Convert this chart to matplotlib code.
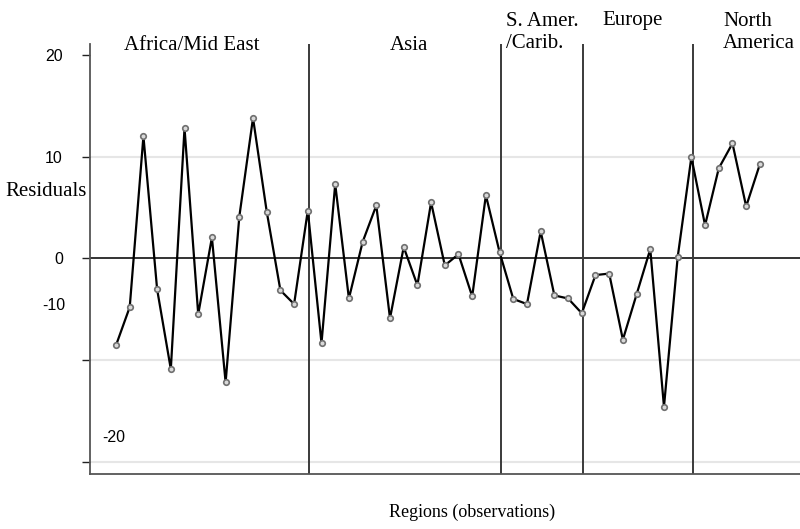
import numpy as np
import matplotlib
matplotlib.use("Agg")
import matplotlib.pyplot as plt

# Residuals by observation, grouped by region
residuals = [-8.55, -4.8, 12.0, -3.05, -10.9, 12.8, -5.5, 2.05, -12.2, 4.1,
             13.8, 4.6, -3.15, -4.5, 4.7, -8.35, 7.3, -3.95, 1.6, 5.2,
             -5.9, 1.1, -2.65, 5.5, -0.7, 0.4, -3.75, 6.2, 0.6, -4.0,
             -4.5, 2.65, -3.65, -3.95, -5.4, -1.65, -1.5, -8.0, -3.55, 0.9,
             -14.6, 0.1, 9.95, 3.25, 8.85, 11.3, 5.1, 9.25]
obs = np.arange(1, len(residuals) + 1)

region_breaks = [15.1, 29.1, 35.1, 43.1]
region_names = ["Africa/Mid East", "Asia", "S. Amer.\n/Carib.", "Europe", "North\nAmerica"]

ytick_vals = [20, 10, 0, -10, -20]
ytick_text = ["20", "10", "0", "", ""]
grid_vals = [10, -10, -20]

serif = "Liberation Serif"
sans = "Liberation Sans"

fig = plt.figure(figsize=(8, 5.29), dpi=100)
ax = fig.add_axes([0.1125, 0.1045, 0.8875, 0.8123])

ax.set_xlim(-0.9, 50.93)
ax.set_ylim(-21.18, 21.07)

for g in grid_vals:
    ax.axhline(g, color="#e6e6e6", lw=1.5, zorder=0)
ax.axhline(0, color="#333333", lw=1.4, zorder=1)

for b in region_breaks:
    ax.axvline(b, color="#3a3a3a", lw=1.4, zorder=1)

ax.plot(obs, residuals, color="black", lw=1.6, zorder=2,
        marker="o", markersize=4, markerfacecolor="#d9d9d9",
        markeredgecolor="#6f6f6f", markeredgewidth=1.2)

# axis styling
for s in ["top", "right"]:
    ax.spines[s].set_visible(False)
for s in ["left", "bottom"]:
    ax.spines[s].set_color("#555555")
    ax.spines[s].set_linewidth(1.3)
ax.set_xticks([])
ax.set_yticks(ytick_vals)
ax.set_yticklabels(ytick_text, fontfamily=sans, fontsize=11.5)
ax.tick_params(axis="y", length=6, width=1, color="#222222", pad=13.5)

# the two lower labels sit off their ticks
ax.text(-2.7, -4.6, "-10", fontfamily=sans, fontsize=11.5, ha="right", va="center", clip_on=False)
ax.text(0.0, -17.6, "-20", fontfamily=sans, fontsize=11.5, ha="left", va="center")

# region titles above the plot
ax.text(6.55, 20.9, region_names[0], fontfamily=serif, fontsize=15, ha="center", va="center", clip_on=False)
ax.text(22.4, 20.9, region_names[1], fontfamily=serif, fontsize=15, ha="center", va="center", clip_on=False)
ax.text(29.47, 22.2, region_names[2], fontfamily=serif, fontsize=15, ha="left", va="center",
        linespacing=1.15, clip_on=False)
ax.text(38.7, 23.35, region_names[3], fontfamily=serif, fontsize=15, ha="center", va="center", clip_on=False)
ax.text(45.3, 22.2, region_names[4], fontfamily=serif, fontsize=15, ha="left", va="center",
        linespacing=1.15, clip_on=False)

fig.text(87 / 800, 1 - 192 / 529, "Residuals", fontfamily=serif, fontsize=15, ha="right", va="center")
fig.text(472 / 800, 1 - 512 / 529, "Regions (observations)", fontfamily=serif, fontsize=13,
         ha="center", va="center")

fig.savefig("out.png", dpi=100)
